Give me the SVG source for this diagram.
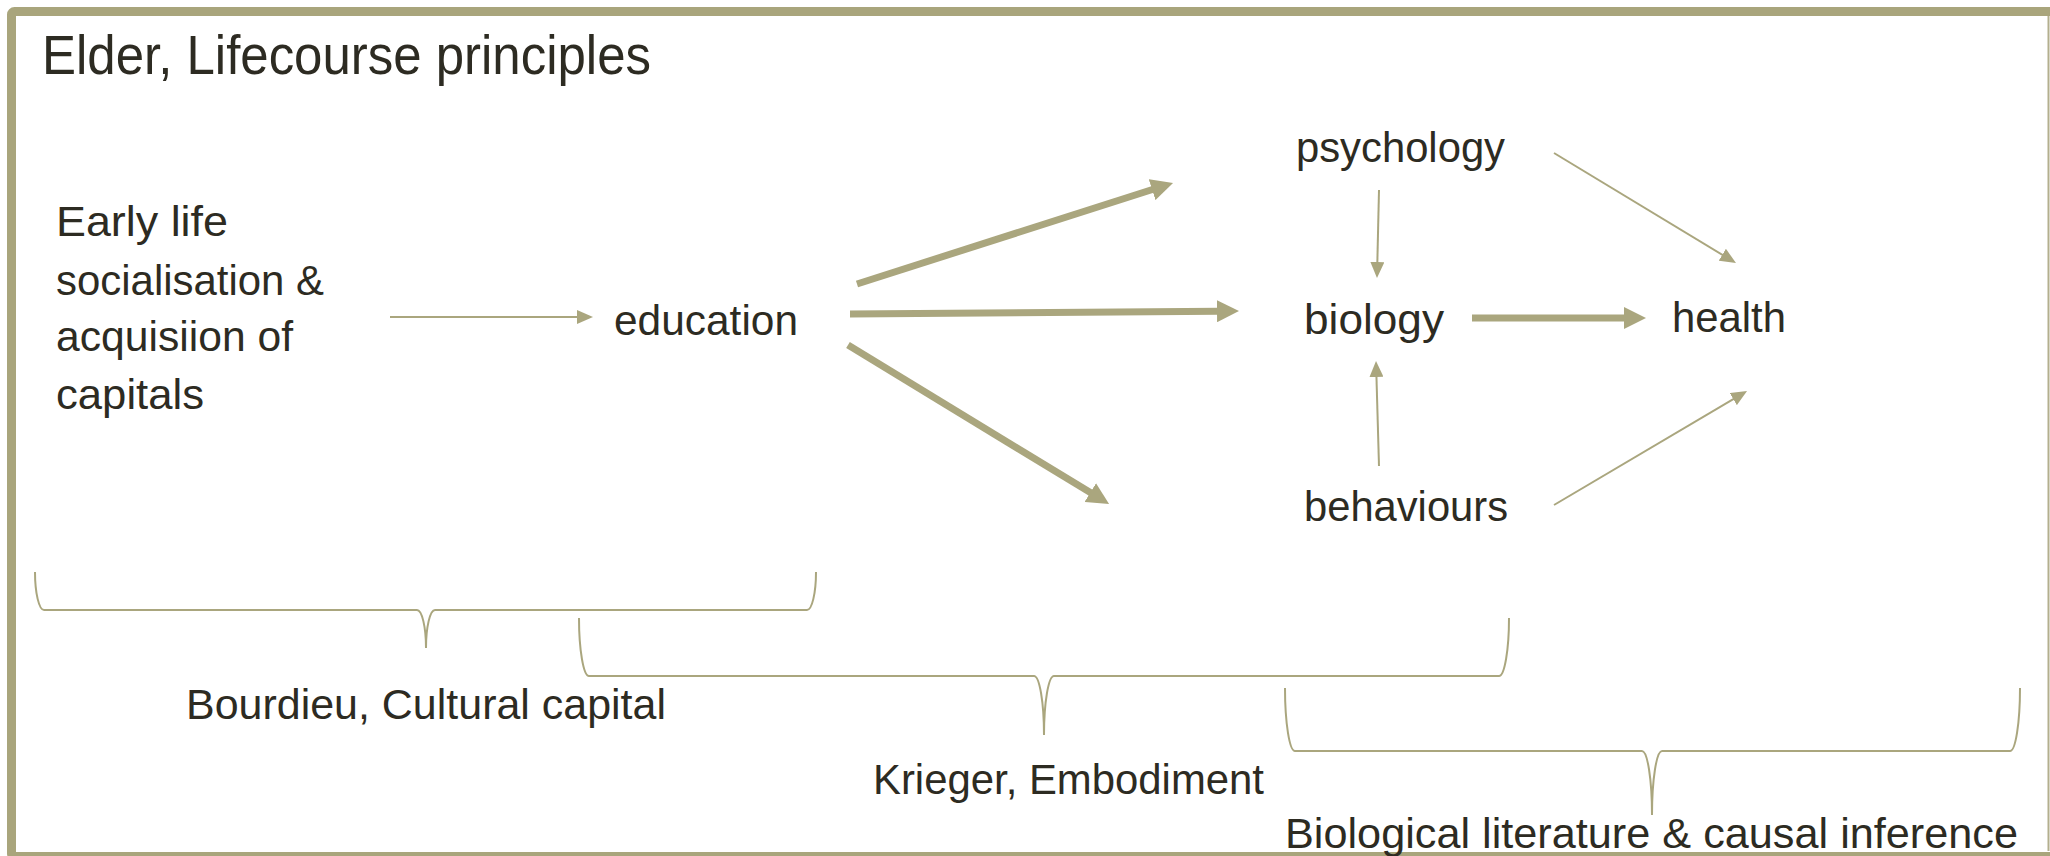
<svg xmlns="http://www.w3.org/2000/svg" width="2050" height="856" viewBox="0 0 2050 856">
  <style>
    text { font-family: "Liberation Sans", Arial, sans-serif; fill: #2d2b22; }
    .title { font-size: 55px; }
    .lbl { font-size: 42px; }
    .thin { stroke: #aaa67e; stroke-width: 2; fill: none; marker-end: url(#headThin); }
    .thick { stroke: #aaa67e; stroke-width: 7; fill: none; marker-end: url(#headThick); }
    .brace { stroke: #aaa67e; stroke-width: 2; fill: none; }
  </style>
  <defs>
    <marker id="headThin" markerUnits="userSpaceOnUse" markerWidth="16" markerHeight="14" refX="2" refY="7" orient="auto">
      <path d="M0,0 L16,7 L0,14 z" fill="#aaa67e"/>
    </marker>
    <marker id="headThick" markerUnits="userSpaceOnUse" markerWidth="22" markerHeight="22" refX="2" refY="11" orient="auto">
      <path d="M0,0 L22,11 L0,22 z" fill="#aaa67e"/>
    </marker>
  </defs>

  <!-- page background and frame -->
  <rect x="0" y="0" width="2050" height="856" fill="#ffffff"/>
  <rect x="11.5" y="11.5" width="2060" height="845" rx="3" fill="none" stroke="#a9a57c" stroke-width="9"/>
  <line x1="2048.5" y1="16" x2="2048.5" y2="851" stroke="#b3af8e" stroke-width="2"/>

  <text class="title" x="42" y="74" textLength="609" lengthAdjust="spacingAndGlyphs">Elder, Lifecourse principles</text>

  <!-- nodes -->
  <g id="early-life">
    <text class="lbl" x="56" y="236" textLength="172" lengthAdjust="spacingAndGlyphs">Early life</text>
    <text class="lbl" x="56" y="295" textLength="268" lengthAdjust="spacingAndGlyphs">socialisation &amp;</text>
    <text class="lbl" x="56" y="351" textLength="237" lengthAdjust="spacingAndGlyphs">acquisiion of</text>
    <text class="lbl" x="56" y="409" textLength="148" lengthAdjust="spacingAndGlyphs">capitals</text>
  </g>
  <g id="education">
    <text class="lbl" x="614" y="335" textLength="184" lengthAdjust="spacingAndGlyphs">education</text>
  </g>
  <g id="psychology">
    <text class="lbl" x="1296" y="162" textLength="209" lengthAdjust="spacingAndGlyphs">psychology</text>
  </g>
  <g id="biology">
    <text class="lbl" x="1304" y="334" textLength="140" lengthAdjust="spacingAndGlyphs">biology</text>
  </g>
  <g id="behaviours">
    <text class="lbl" x="1304" y="521" textLength="204" lengthAdjust="spacingAndGlyphs">behaviours</text>
  </g>
  <g id="health">
    <text class="lbl" x="1672" y="332" textLength="114" lengthAdjust="spacingAndGlyphs">health</text>
  </g>

  <!-- connectors -->
  <g id="connectors">
    <line class="thin" x1="390" y1="317" x2="579" y2="317"/>
    <line class="thick" x1="857" y1="284" x2="1154" y2="189"/>
    <line class="thick" x1="850" y1="314" x2="1219" y2="311.2"/>
    <line class="thick" x1="848" y1="345" x2="1092" y2="493.6"/>
    <line class="thin" x1="1379" y1="190" x2="1377.3" y2="264"/>
    <line class="thin" x1="1379" y1="466" x2="1376.4" y2="375"/>
    <line class="thick" x1="1472" y1="318" x2="1626" y2="318"/>
    <line class="thin" x1="1554" y1="153" x2="1724" y2="255.8"/>
    <line class="thin" x1="1554" y1="505" x2="1735" y2="398.1"/>
  </g>

  <!-- brackets grouping the stages -->
  <g id="bourdieu">
    <path class="brace" d="M35,572 A9 38 0 0 0 44,610 L417,610 A9 38 0 0 1 426,648 A9 38 0 0 1 435,610 L807,610 A9 38 0 0 0 816,572"/>
    <text class="lbl" x="186" y="719" textLength="480" lengthAdjust="spacingAndGlyphs">Bourdieu, Cultural capital</text>
  </g>
  <g id="krieger">
    <path class="brace" d="M579,618 A10 58 0 0 0 589,676 L1034,676 A10 59 0 0 1 1044,735 A10 59 0 0 1 1054,676 L1499,676 A10 58 0 0 0 1509,618"/>
    <text class="lbl" x="873" y="794" textLength="391" lengthAdjust="spacingAndGlyphs">Krieger, Embodiment</text>
  </g>
  <g id="biological">
    <path class="brace" d="M1285,688 A10 63 0 0 0 1295,751 L1642,751 A10 64 0 0 1 1652,815 A10 64 0 0 1 1662,751 L2010,751 A10 63 0 0 0 2020,688"/>
    <text class="lbl" x="1285" y="848" textLength="733" lengthAdjust="spacingAndGlyphs">Biological literature &amp; causal inference</text>
  </g>
</svg>
